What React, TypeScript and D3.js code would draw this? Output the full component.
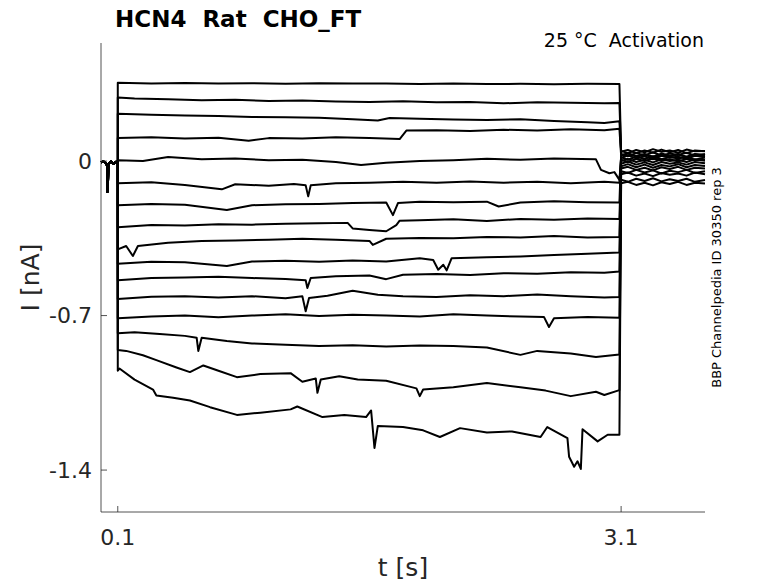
import React from 'react';
import * as d3 from 'd3';

// Current traces from the activation protocol.
// Each trace: [t (s), I (nA)] during the 0.1–3.1 s voltage step.
const preStep: [number, number][] = [
  [0, -0.006], [0.015, -0.002], [0.03, -0.01], [0.036, -0.02], [0.038, -0.14],
  [0.041, -0.12], [0.044, -0.014], [0.06, -0.002], [0.075, -0.012], [0.09, -0.003], [0.1, -0.008],
];

const tailTimes = [3.1, 3.14, 3.19, 3.24, 3.29, 3.34, 3.39, 3.44, 3.49, 3.54, 3.6];

const trace01: [number, number][] = [
  [0.1, 0.355], [0.3, 0.352], [0.5, 0.354], [0.7, 0.351], [0.9, 0.353], [1.1, 0.35], [1.3, 0.353],
  [1.5, 0.351], [1.7, 0.352], [1.9, 0.349], [2.1, 0.351], [2.3, 0.349], [2.5, 0.35], [2.7, 0.348],
  [2.9, 0.35], [3.09, 0.349],
];
const trace02: [number, number][] = [
  [0.1, 0.288], [0.2, 0.283], [0.4, 0.28], [0.6, 0.276], [0.8, 0.278], [1.0, 0.272], [1.2, 0.275],
  [1.4, 0.27], [1.6, 0.268], [1.8, 0.271], [2.0, 0.266], [2.2, 0.268], [2.4, 0.262], [2.6, 0.266],
  [2.8, 0.264], [3.0, 0.262], [3.09, 0.263],
];
const trace03: [number, number][] = [
  [0.1, 0.215], [0.3, 0.21], [0.5, 0.206], [0.7, 0.204], [0.9, 0.2], [1.1, 0.199], [1.3, 0.196],
  [1.5, 0.19], [1.65, 0.184], [1.72, 0.195], [1.9, 0.192], [2.1, 0.188], [2.3, 0.186], [2.5, 0.19],
  [2.7, 0.182], [2.9, 0.176], [3.0, 0.172], [3.09, 0.18],
];
const trace04: [number, number][] = [
  [0.1, 0.104], [0.3, 0.108], [0.5, 0.102], [0.7, 0.106], [0.88, 0.092], [1.0, 0.104], [1.2, 0.102],
  [1.4, 0.108], [1.6, 0.104], [1.78, 0.1], [1.82, 0.138], [2.0, 0.14], [2.2, 0.136], [2.4, 0.142],
  [2.6, 0.138], [2.8, 0.144], [3.0, 0.14], [3.09, 0.146],
];
const trace05: [number, number][] = [
  [0.1, 0.004], [0.25, 0.0], [0.4, 0.018], [0.6, 0.008], [0.8, 0.012], [1.0, 0.004], [1.2, 0.006],
  [1.4, -0.004], [1.55, -0.018], [1.7, -0.008], [1.9, 0.0], [2.1, 0.004], [2.3, 0.01], [2.5, 0.006],
  [2.7, 0.012], [2.95, 0.008], [2.98, -0.04], [3.03, -0.055], [3.06, -0.05], [3.09, -0.085],
];
const trace06: [number, number][] = [
  [0.1, -0.1], [0.3, -0.096], [0.5, -0.108], [0.72, -0.128], [0.8, -0.105], [1.0, -0.112],
  [1.15, -0.104], [1.22, -0.11], [1.235, -0.16], [1.25, -0.11], [1.4, -0.1], [1.6, -0.098],
  [1.8, -0.094], [2.0, -0.098], [2.2, -0.092], [2.4, -0.098], [2.6, -0.094], [2.8, -0.1],
  [3.0, -0.094], [3.09, -0.098],
];
const trace07: [number, number][] = [
  [0.1, -0.2], [0.3, -0.194], [0.5, -0.198], [0.75, -0.222], [0.9, -0.2], [1.1, -0.196],
  [1.3, -0.194], [1.5, -0.19], [1.7, -0.188], [1.74, -0.245], [1.77, -0.19], [1.9, -0.184],
  [2.1, -0.186], [2.3, -0.184], [2.37, -0.206], [2.5, -0.188], [2.7, -0.182], [2.9, -0.186],
  [3.09, -0.188],
];
const trace08: [number, number][] = [
  [0.1, -0.3], [0.3, -0.29], [0.5, -0.292], [0.7, -0.286], [0.9, -0.288], [1.1, -0.284],
  [1.3, -0.282], [1.47, -0.28], [1.5, -0.305], [1.6, -0.312], [1.7, -0.318], [1.76, -0.29],
  [1.78, -0.27], [1.9, -0.268], [2.1, -0.264], [2.3, -0.272], [2.5, -0.262], [2.7, -0.266],
  [2.9, -0.26], [3.09, -0.262],
];
const trace09: [number, number][] = [
  [0.1, -0.4], [0.15, -0.385], [0.19, -0.43], [0.22, -0.385], [0.4, -0.37], [0.6, -0.362],
  [0.8, -0.36], [1.0, -0.356], [1.2, -0.352], [1.4, -0.356], [1.6, -0.362], [1.62, -0.38],
  [1.7, -0.352], [1.9, -0.348], [2.1, -0.35], [2.3, -0.344], [2.5, -0.346], [2.7, -0.34],
  [2.9, -0.346], [3.09, -0.344],
];
const trace10: [number, number][] = [
  [0.1, -0.465], [0.3, -0.456], [0.5, -0.458], [0.75, -0.475], [0.9, -0.455], [1.1, -0.452],
  [1.3, -0.456], [1.5, -0.45], [1.7, -0.455], [1.9, -0.44], [1.98, -0.448], [2.01, -0.492],
  [2.04, -0.47], [2.06, -0.495], [2.09, -0.44], [2.3, -0.436], [2.5, -0.432], [2.7, -0.426],
  [2.9, -0.42], [3.09, -0.414],
];
const trace11: [number, number][] = [
  [0.1, -0.54], [0.3, -0.53], [0.5, -0.528], [0.7, -0.524], [0.9, -0.53], [1.1, -0.534],
  [1.22, -0.54], [1.23, -0.575], [1.25, -0.53], [1.4, -0.522], [1.6, -0.518], [1.7, -0.535],
  [1.8, -0.515], [2.0, -0.512], [2.2, -0.516], [2.4, -0.508], [2.6, -0.51], [2.8, -0.504],
  [3.0, -0.506], [3.09, -0.5],
];
const trace12: [number, number][] = [
  [0.1, -0.625], [0.3, -0.615], [0.5, -0.612], [0.7, -0.618], [0.9, -0.612], [1.1, -0.622],
  [1.2, -0.612], [1.22, -0.68], [1.24, -0.62], [1.35, -0.61], [1.5, -0.588], [1.65, -0.606],
  [1.8, -0.612], [2.0, -0.616], [2.2, -0.608], [2.4, -0.612], [2.6, -0.604], [2.8, -0.612],
  [3.0, -0.618], [3.09, -0.616],
];
const trace13: [number, number][] = [
  [0.1, -0.712], [0.3, -0.704], [0.5, -0.7], [0.7, -0.708], [0.9, -0.7], [1.1, -0.694],
  [1.3, -0.702], [1.5, -0.696], [1.7, -0.7], [1.9, -0.704], [2.1, -0.694], [2.3, -0.7],
  [2.5, -0.704], [2.64, -0.706], [2.67, -0.752], [2.7, -0.712], [2.9, -0.706], [3.09, -0.71],
];
const trace14: [number, number][] = [
  [0.1, -0.78], [0.2, -0.776], [0.35, -0.784], [0.5, -0.792], [0.57, -0.8], [0.58, -0.86],
  [0.6, -0.8], [0.75, -0.815], [0.9, -0.826], [1.1, -0.832], [1.3, -0.838], [1.5, -0.834],
  [1.7, -0.84], [1.9, -0.836], [2.1, -0.838], [2.3, -0.845], [2.5, -0.878], [2.6, -0.86],
  [2.8, -0.872], [2.95, -0.888], [3.09, -0.876],
];
const trace15: [number, number][] = [
  [0.1, -0.856], [0.15, -0.86], [0.25, -0.88], [0.33, -0.902], [0.45, -0.935], [0.53, -0.956],
  [0.61, -0.926], [0.7, -0.95], [0.81, -0.979], [0.95, -0.965], [1.13, -0.961], [1.2, -1.0],
  [1.28, -0.985], [1.29, -1.05], [1.31, -0.99], [1.42, -0.975], [1.53, -0.99], [1.7, -0.995],
  [1.88, -1.03], [1.9, -1.065], [1.92, -1.035], [2.1, -1.025], [2.3, -1.006], [2.5, -1.025],
  [2.65, -1.04], [2.8, -1.065], [2.95, -1.045], [3.0, -1.06], [3.09, -1.038],
];
const trace16: [number, number][] = [
  [0.1, -0.95], [0.11, -0.94], [0.2, -0.99], [0.31, -1.035], [0.33, -1.062], [0.43, -1.072],
  [0.53, -1.085], [0.65, -1.115], [0.81, -1.15], [0.95, -1.14], [1.13, -1.125], [1.17, -1.112],
  [1.32, -1.16], [1.45, -1.15], [1.58, -1.16], [1.61, -1.13], [1.63, -1.3], [1.65, -1.2],
  [1.8, -1.205], [1.92, -1.22], [2.02, -1.25], [2.14, -1.21], [2.3, -1.23], [2.45, -1.225],
  [2.62, -1.25], [2.66, -1.205], [2.78, -1.255], [2.79, -1.34], [2.82, -1.385], [2.84, -1.36],
  [2.86, -1.395], [2.87, -1.215], [2.96, -1.27], [3.02, -1.24], [3.09, -1.24],
];

// tail currents after the step (one value per tailTimes entry)
const tail01 = [0.042, 0.05, 0.036, 0.048, 0.038, 0.052, 0.04, 0.05, 0.036, 0.048, 0.044];
const tail02 = [0.032, 0.022, 0.036, 0.026, 0.04, 0.024, 0.034, 0.028, 0.038, 0.024, 0.032];
const tail03 = [0.046, 0.036, 0.05, 0.04, 0.054, 0.042, 0.048, 0.038, 0.052, 0.044, 0.046];
const tail04 = [0.026, 0.036, 0.022, 0.032, 0.02, 0.034, 0.024, 0.03, 0.02, 0.032, 0.028];
const tail05 = [0.014, 0.026, 0.012, 0.022, 0.008, 0.024, 0.016, 0.02, 0.01, 0.024, 0.018];
const tail06 = [0.018, 0.006, 0.02, 0.01, 0.022, 0.008, 0.018, 0.012, 0.02, 0.006, 0.016];
const tail07 = [0.024, 0.034, 0.02, 0.03, 0.016, 0.028, 0.022, 0.032, 0.018, 0.03, 0.026];
const tail08 = [0.006, -0.004, 0.01, 0.0, 0.012, 0.002, 0.008, -0.002, 0.01, 0.004, 0.006];
const tail09 = [0.0, 0.01, -0.004, 0.006, -0.006, 0.008, 0.0, 0.006, -0.004, 0.008, 0.002];
const tail10 = [-0.012, -0.002, -0.016, -0.006, -0.018, -0.004, -0.012, -0.006, -0.016, -0.004, -0.01];
const tail11 = [-0.024, -0.014, -0.028, -0.016, -0.03, -0.018, -0.024, -0.014, -0.028, -0.018, -0.022];
const tail12 = [-0.034, -0.026, -0.04, -0.03, -0.042, -0.028, -0.036, -0.026, -0.04, -0.03, -0.034];
const tail13 = [-0.046, -0.054, -0.04, -0.052, -0.042, -0.056, -0.044, -0.05, -0.04, -0.054, -0.046];
const tail14 = [-0.06, -0.052, -0.066, -0.056, -0.068, -0.054, -0.062, -0.056, -0.066, -0.052, -0.06];
const tail15 = [-0.084, -0.094, -0.08, -0.09, -0.078, -0.092, -0.082, -0.09, -0.08, -0.094, -0.086];
const tail16 = [-0.1, -0.094, -0.108, -0.098, -0.11, -0.096, -0.104, -0.094, -0.108, -0.098, -0.102];

const steps = [trace01, trace02, trace03, trace04, trace05, trace06, trace07, trace08,
  trace09, trace10, trace11, trace12, trace13, trace14, trace15, trace16];
const tails = [tail01, tail02, tail03, tail04, tail05, tail06, tail07, tail08,
  tail09, tail10, tail11, tail12, tail13, tail14, tail15, tail16];

const xTicks = [0.1, 3.1];
const yTicks = [-1.4, -0.7, 0];

const W = 778;
const H = 583;
const margin = { top: 43, right: 73, bottom: 71, left: 101 };
const axisColor = '#262626';
const font = 'DejaVu Sans, sans-serif';

export default function App() {
  const x = d3.scaleLinear().domain([0, 3.6]).range([margin.left, W - margin.right]);
  const y = d3.scaleLinear().domain([-1.59, 0.535]).range([H - margin.bottom, margin.top]);

  const line = d3.line<[number, number]>()
    .x(d => x(d[0]))
    .y(d => y(d[1]));

  const traces = steps.map((s, i) => {
    const tail: [number, number][] = tailTimes.map((t, j) => [t, tails[i][j]]);
    return [...preStep, ...s, ...tail];
  });

  const x0 = margin.left;
  const x1 = W - margin.right;
  const y0 = H - margin.bottom;
  const y1 = margin.top;

  return (
    <svg width={W} height={H} style={{ position: 'absolute', left: 0, top: 0, background: '#fff' }}>
      <rect width={W} height={H} fill="#fff" />
      <g fill="none" stroke="#000" strokeWidth={2} strokeLinejoin="round">
        {traces.map((tr, i) => (
          <path key={i} d={line(tr) || ''} />
        ))}
      </g>

      {/* axes */}
      <line x1={x0} y1={y1} x2={x0} y2={y0} stroke={axisColor} strokeWidth={0.8} />
      <line x1={x0} y1={y0} x2={x1} y2={y0} stroke={axisColor} strokeWidth={0.8} />
      {xTicks.map(t => (
        <g key={t}>
          <line x1={x(t)} x2={x(t)} y1={y0} y2={y0 - 6} stroke={axisColor} strokeWidth={0.8} />
          <text x={x(t)} y={545} textAnchor="middle" fontFamily={font} fontSize={22} fill={axisColor}>
            {t}
          </text>
        </g>
      ))}
      {yTicks.map(t => (
        <g key={t}>
          <line x1={x0} x2={x0 + 6} y1={y(t)} y2={y(t)} stroke={axisColor} strokeWidth={0.8} />
          <text x={92} y={y(t)} dy="0.36em" textAnchor="end" fontFamily={font} fontSize={22} fill={axisColor}>
            {t}
          </text>
        </g>
      ))}

      {/* labels */}
      <text x={(x0 + x1) / 2} y={576} textAnchor="middle" fontFamily={font} fontSize={25} fill={axisColor}>
        t [s]
      </text>
      <text
        transform={`translate(39,${(y0 + y1) / 2}) rotate(-90)`}
        textAnchor="middle"
        fontFamily={font}
        fontSize={25}
        fill={axisColor}
      >
        I [nA]
      </text>
      <text x={115} y={27} fontFamily={font} fontWeight="bold" fontSize={23} fill="#000" xmlSpace="preserve">
        HCN4  Rat  CHO_FT
      </text>
      <text x={704} y={47} textAnchor="end" fontFamily={font} fontSize={19} fill="#000" xmlSpace="preserve">
        25 °C  Activation
      </text>
      <text
        transform={`translate(721,${(y0 + y1) / 2}) rotate(-90)`}
        textAnchor="middle"
        fontFamily={font}
        fontSize={13}
        fill="#000"
      >
        BBP Channelpedia ID 30350 rep 3
      </text>
    </svg>
  );
}
